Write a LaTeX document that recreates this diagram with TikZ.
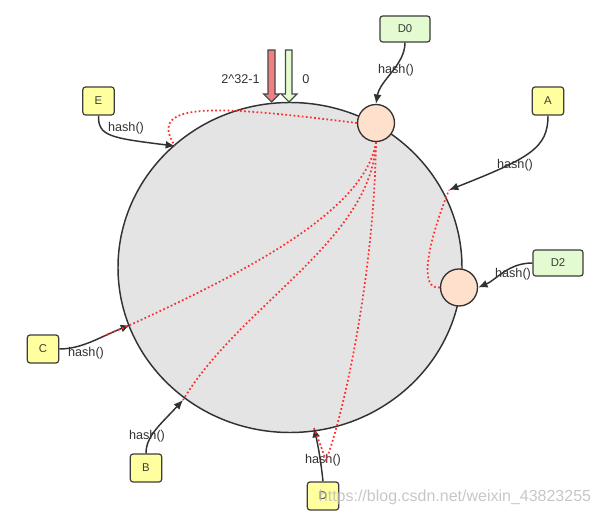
\documentclass[tikz,border=0pt]{standalone}
\usepackage{fontspec}
\setmainfont{Liberation Sans}
\usetikzlibrary{shapes.geometric,arrows.meta}

\begin{document}
\begin{tikzpicture}[x=0.75pt,y=0.75pt,yscale=-1,xscale=1,
    key/.style={draw={rgb, 255:red, 60; green, 60; blue, 60 },line width=0.9pt,rounded corners=2pt,fill={rgb, 255:red, 255; green, 255; blue, 160 },minimum width=23.5pt,minimum height=21pt,inner sep=0pt,font=\fontsize{8.5}{10}\selectfont,text={rgb, 255:red, 60; green, 60; blue, 60 }},
    server/.style={key,fill={rgb, 255:red, 228; green, 250; blue, 208 },minimum width=37.5pt,minimum height=19.5pt},
    slot/.style={circle,draw={rgb, 255:red, 50; green, 50; blue, 50 },line width=1pt,fill={rgb, 255:red, 255; green, 224; blue, 204 },minimum size=27.75pt,inner sep=0pt},
    hashto/.style={draw={rgb, 255:red, 50; green, 50; blue, 50 },line width=1.1pt,-{Latex[length=7pt,width=6pt]}},
    walk/.style={draw={rgb, 255:red, 255; green, 45; blue, 45 },line width=1.3pt,dash pattern=on 1.3pt off 1.8pt},
    lbl/.style={inner sep=0.75pt,font=\fontsize{9.5}{11}\selectfont,text={rgb, 255:red, 50; green, 50; blue, 50 }}]
    \useasboundingbox (0,0) rectangle (602,516);

    %Shape: Ellipse [id:ring]
    \node [ellipse,draw={rgb, 255:red, 50; green, 50; blue, 50 },line width=1.1pt,fill={rgb, 255:red, 228; green, 228; blue, 228 },minimum width=258pt,minimum height=247.5pt,inner sep=0pt] (ring) at (290,267.5) {};

    %Shape: Arrow [id:max]
    \draw [fill={rgb, 255:red, 240; green, 128; blue, 128 },draw={rgb, 255:red, 70; green, 70; blue, 70 },line width=0.8pt] (268,50) -- (275,50) -- (275,94) -- (279.5,94) -- (271.5,102) -- (263.5,94) -- (268,94) -- cycle ;
    %Shape: Arrow [id:zero]
    \draw [fill={rgb, 255:red, 230; green, 252; blue, 208 },draw={rgb, 255:red, 70; green, 70; blue, 70 },line width=0.8pt] (285.5,50) -- (292,50) -- (292,94) -- (297,94) -- (289,102) -- (281,94) -- (285.5,94) -- cycle ;

    % Text Node
    \node [lbl] (maxlbl) at (240.5,79) {2\^{}32-1};
    % Text Node
    \node [lbl] (zerolbl) at (306,79) {0};

    %Shape: Circle [id:slot0]
    \node [slot] (s0) at (376,123) {};
    %Shape: Circle [id:slot2]
    \node [slot] (s2) at (459,287.5) {};

    % points on the ring
    \coordinate (pA) at (449,190);
    \coordinate (pB) at (183,400);
    \coordinate (pC) at (130,325);
    \coordinate (pD) at (314,428);
    \coordinate (pE) at (175,146);

    % keys and servers
    \node [server] (d0) at (405,29) {D0};
    \node [server] (d2) at (558,263) {D2};
    \node [key] (a) at (548,101) {A};
    \node [key] (e) at (98.5,101) {E};
    \node [key] (c) at (43,349) {C};
    \node [key] (b) at (146,468) {B};
    \node [key] (d) at (323,496) {D};

    % hash() arrows
    \draw [hashto] (d0.south) .. controls (405,65) and (380,80) .. (s0.north) ;
    \draw [hashto] (a.south) .. controls (548,148) and (530,158) .. (pA) ;
    \draw [hashto] (d2.west) .. controls (508,263) and (496,280) .. (s2.east) ;
    \draw [hashto] (e.south) .. controls (98,136) and (110,138) .. (pE) ;
    \draw [hashto] (c.east) .. controls (82,349) and (100,337) .. (pC) ;
    \draw [hashto] (b.north) .. controls (146,436) and (160,425) .. (pB) ;
    \draw [hashto] (d.north) .. controls (321,462) and (318,445) .. (pD) ;

    % Text Node
    \node [lbl] at (396,70) {hash()};
    \node [lbl] at (515,165) {hash()};
    \node [lbl] at (513,274) {hash()};
    \node [lbl] at (126,128) {hash()};
    \node [lbl] at (86,353) {hash()};
    \node [lbl] at (147,436) {hash()};
    \node [lbl] at (323,460) {hash()};

    % clockwise walk to the next server
    \draw [walk] (s0.west) .. controls (220,106) and (145,100) .. (pE) ;
    \draw [walk] (s0.south) .. controls (365,210) and (250,270) .. (pC) -- (104,336) ;
    \draw [walk] (s0.south) .. controls (372,240) and (240,305) .. (pB) ;
    \draw [walk] (s0.south) .. controls (374,280) and (342,420) .. (326,460) -- (pD) ;
    \draw [walk] (s2.west) .. controls (420,290) and (425,250) .. (pA) ;

    % Text Node
    \node [inner sep=0pt,font=\fontsize{12}{14}\selectfont,text={rgb, 255:red, 185; green, 185; blue, 185 },opacity=0.8] (mark) at (455,497) {https://blog.csdn.net/weixin\_43823255};

\end{tikzpicture}
\end{document}
